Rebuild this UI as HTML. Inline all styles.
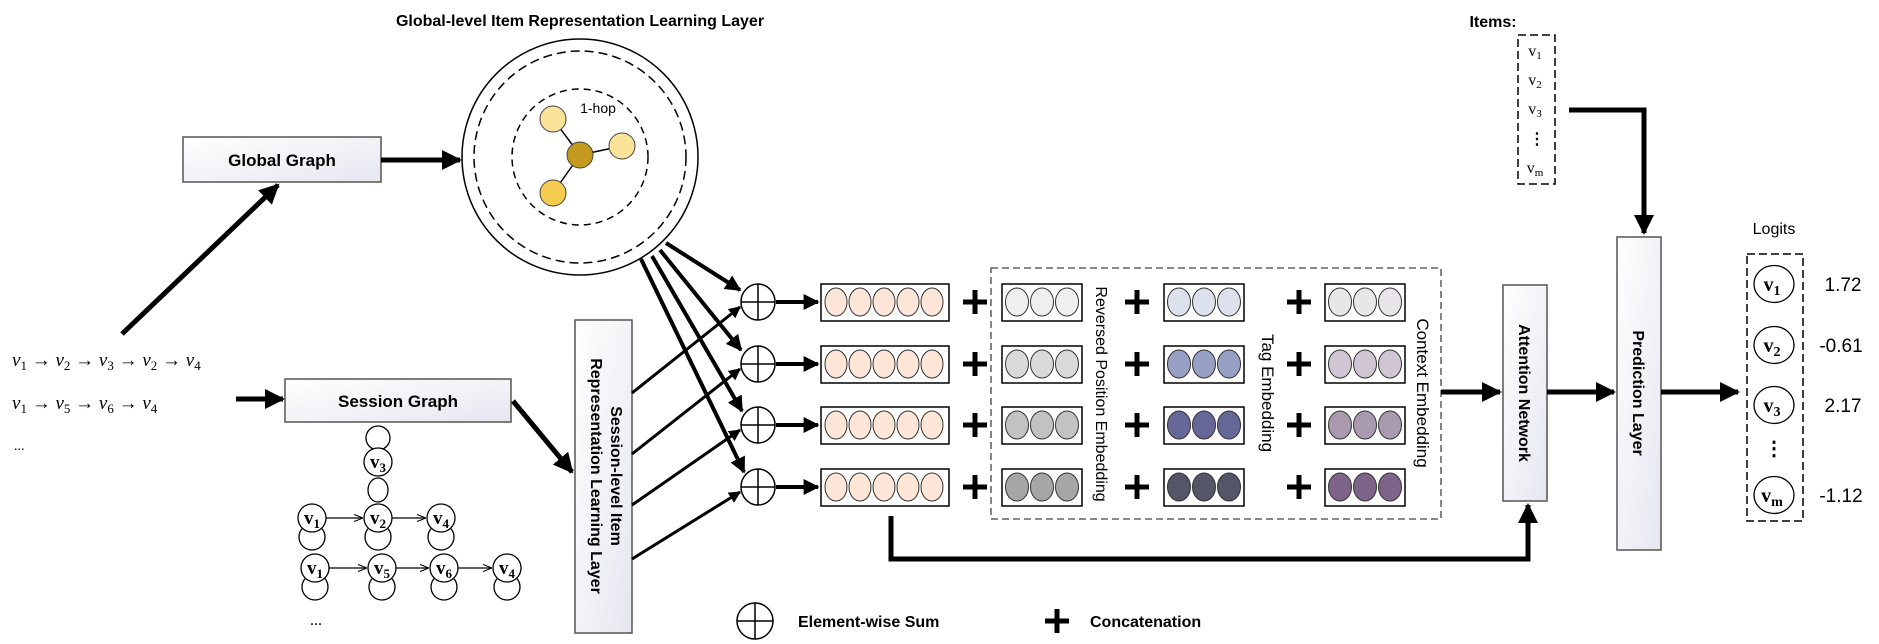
<!DOCTYPE html>
<html><head><meta charset="utf-8"><style>
html,body{margin:0;padding:0;background:#fff}
svg{display:block}
.b{font-family:"Liberation Sans",sans-serif;font-weight:bold}
.s{font-family:"Liberation Serif",serif}
</style></head><body>
<svg width="1879" height="644" viewBox="0 0 1879 644" xmlns="http://www.w3.org/2000/svg">
<defs>
<marker id="ah" viewBox="0 0 10 10" refX="9" refY="5" markerWidth="4" markerHeight="4" orient="auto" markerUnits="strokeWidth"><path d="M0,0 L10,5 L0,10 z" fill="#000"/></marker>
<marker id="sa" viewBox="0 0 10 10" refX="9" refY="5" markerWidth="7" markerHeight="7" orient="auto" markerUnits="strokeWidth"><path d="M0,1 L10,5 L0,9" fill="none" stroke="#000" stroke-width="1.2"/></marker>
<linearGradient id="gb" x1="0" y1="0" x2="1" y2="1"><stop offset="0" stop-color="#ffffff"/><stop offset="1" stop-color="#e6e6f0"/></linearGradient>
</defs>

<text x="580" y="26" class="b" font-size="16" text-anchor="middle">Global-level Item Representation Learning Layer</text>

<circle cx="580" cy="157" r="118" fill="#fff" stroke="#000" stroke-width="1.5"/>
<circle cx="580" cy="157" r="106" fill="none" stroke="#000" stroke-width="1.5" stroke-dasharray="9,5"/>
<circle cx="580" cy="157" r="68" fill="none" stroke="#000" stroke-width="1.5" stroke-dasharray="7,5"/>
<line x1="553" y1="119" x2="580" y2="155" stroke="#000" stroke-width="1.5"/>
<line x1="622" y1="146" x2="580" y2="155" stroke="#000" stroke-width="1.5"/>
<line x1="553" y1="193" x2="580" y2="155" stroke="#000" stroke-width="1.5"/>
<circle cx="553" cy="119" r="13" fill="#fbe39a" stroke="#444"/>
<circle cx="622" cy="146" r="13" fill="#fbe39a" stroke="#444"/>
<circle cx="553" cy="193" r="13" fill="#f5cc50" stroke="#444"/>
<circle cx="580" cy="155" r="13" fill="#c39a1e" stroke="#444"/>
<text x="598" y="113" font-family="Liberation Sans,sans-serif" font-size="14" text-anchor="middle">1-hop</text>

<rect x="183" y="137" width="198" height="45" fill="url(#gb)" stroke="#555" stroke-width="1.5"/>
<text x="282" y="166" class="b" font-size="17" text-anchor="middle">Global Graph</text>
<line x1="381" y1="160" x2="460" y2="160" stroke="#000" stroke-width="5" marker-end="url(#ah)"/>
<line x1="122" y1="334" x2="278" y2="185" stroke="#000" stroke-width="5" marker-end="url(#ah)"/>

<text x="12" y="366" class="s" font-style="italic" font-size="19">v<tspan font-size="13" dy="4" font-style="normal">1</tspan><tspan dy="-4"> → v</tspan><tspan font-size="13" dy="4" font-style="normal">2</tspan><tspan dy="-4"> → v</tspan><tspan font-size="13" dy="4" font-style="normal">3</tspan><tspan dy="-4"> → v</tspan><tspan font-size="13" dy="4" font-style="normal">2</tspan><tspan dy="-4"> → v</tspan><tspan font-size="13" dy="4" font-style="normal">4</tspan></text>
<text x="12" y="409" class="s" font-style="italic" font-size="19">v<tspan font-size="13" dy="4" font-style="normal">1</tspan><tspan dy="-4"> → v</tspan><tspan font-size="13" dy="4" font-style="normal">5</tspan><tspan dy="-4"> → v</tspan><tspan font-size="13" dy="4" font-style="normal">6</tspan><tspan dy="-4"> → v</tspan><tspan font-size="13" dy="4" font-style="normal">4</tspan></text>
<text x="14" y="450" class="s" font-size="14">...</text>

<line x1="236" y1="399" x2="283" y2="399" stroke="#000" stroke-width="5" marker-end="url(#ah)"/>
<rect x="285" y="379" width="226" height="43" fill="url(#gb)" stroke="#555" stroke-width="1.5"/>
<text x="398" y="407" class="b" font-size="17" text-anchor="middle">Session Graph</text>
<line x1="513" y1="401" x2="572" y2="472" stroke="#000" stroke-width="5" marker-end="url(#ah)"/>

<g fill="none" stroke="#000" stroke-width="1.3">
<circle cx="378" cy="438" r="12"/>
<ellipse cx="378" cy="490" rx="10" ry="12"/>
<circle cx="312" cy="537" r="13"/><circle cx="378" cy="537" r="13"/><circle cx="441" cy="537" r="13"/>
<circle cx="315" cy="587" r="13"/><circle cx="382" cy="587" r="13"/><circle cx="444" cy="587" r="13"/><circle cx="507" cy="587" r="13"/>
<line x1="326" y1="518" x2="362" y2="518" marker-end="url(#sa)"/>
<line x1="392" y1="518" x2="425" y2="518" marker-end="url(#sa)"/>
<line x1="329" y1="568" x2="366" y2="568" marker-end="url(#sa)"/>
<line x1="396" y1="568" x2="428" y2="568" marker-end="url(#sa)"/>
<line x1="458" y1="568" x2="491" y2="568" marker-end="url(#sa)"/>
</g>
<g fill="#fff" stroke="#000" stroke-width="1.3">
<circle cx="378" cy="462" r="14"/>
<circle cx="312" cy="518" r="14"/><circle cx="378" cy="518" r="14"/><circle cx="441" cy="518" r="14"/>
<circle cx="315" cy="568" r="14"/><circle cx="382" cy="568" r="14"/><circle cx="444" cy="568" r="14"/><circle cx="507" cy="568" r="14"/>
</g>
<g class="s" font-weight="bold" font-size="19" text-anchor="middle">
<text x="378" y="468">v<tspan font-size="13" dy="4">3</tspan></text>
<text x="312" y="524">v<tspan font-size="13" dy="4">1</tspan></text>
<text x="378" y="524">v<tspan font-size="13" dy="4">2</tspan></text>
<text x="441" y="524">v<tspan font-size="13" dy="4">4</tspan></text>
<text x="315" y="574">v<tspan font-size="13" dy="4">1</tspan></text>
<text x="382" y="574">v<tspan font-size="13" dy="4">5</tspan></text>
<text x="444" y="574">v<tspan font-size="13" dy="4">6</tspan></text>
<text x="507" y="574">v<tspan font-size="13" dy="4">4</tspan></text>
</g>
<text x="316" y="625" class="s" font-size="16" text-anchor="middle">...</text>

<rect x="575" y="320" width="57" height="313" fill="url(#gb)" stroke="#555" stroke-width="1.5"/>
<text transform="translate(611,476) rotate(90)" class="b" font-size="16" text-anchor="middle">Session-level Item</text>
<text transform="translate(591,476) rotate(90)" class="b" font-size="16" text-anchor="middle">Representation  Learning Layer</text>

<g stroke="#000" stroke-width="4">
<line x1="666" y1="243" x2="740" y2="290" marker-end="url(#ah)"/>
<line x1="660" y1="250" x2="741" y2="350" marker-end="url(#ah)"/>
<line x1="652" y1="256" x2="742" y2="411" marker-end="url(#ah)"/>
<line x1="641" y1="259" x2="744" y2="472" marker-end="url(#ah)"/>
</g>
<g stroke="#000" stroke-width="3">
<line x1="632" y1="393" x2="740" y2="307" marker-end="url(#ah)"/>
<line x1="632" y1="454" x2="740" y2="369" marker-end="url(#ah)"/>
<line x1="632" y1="505" x2="740" y2="430" marker-end="url(#ah)"/>
<line x1="632" y1="559" x2="740" y2="492" marker-end="url(#ah)"/>
</g>

<g stroke="#000" stroke-width="1.5" fill="#fff">
<ellipse cx="758" cy="302" rx="17" ry="18"/><ellipse cx="758" cy="364" rx="17" ry="18"/><ellipse cx="758" cy="425" rx="17" ry="18"/><ellipse cx="758" cy="487" rx="17" ry="18"/>
</g>
<path d="M741,302h34M758,284v36M741,364h34M758,346v36M741,425h34M758,407v36M741,487h34M758,469v36" stroke="#000" stroke-width="1.5"/>
<g stroke="#000" stroke-width="4">
<line x1="776" y1="302" x2="818" y2="302" marker-end="url(#ah)"/>
<line x1="776" y1="364" x2="818" y2="364" marker-end="url(#ah)"/>
<line x1="776" y1="425" x2="818" y2="425" marker-end="url(#ah)"/>
<line x1="776" y1="487" x2="818" y2="487" marker-end="url(#ah)"/>
</g>

<g stroke="#000" stroke-width="1.5">
<rect x="821" y="284" width="128" height="37" fill="#fff"/>
<rect x="821" y="346" width="128" height="37" fill="#fff"/>
<rect x="821" y="407" width="128" height="37" fill="#fff"/>
<rect x="821" y="469" width="128" height="37" fill="#fff"/>
</g>
<g fill="#fde6d8" stroke="#333" stroke-width="1">
<ellipse cx="836" cy="302" rx="11" ry="14"/><ellipse cx="860" cy="302" rx="11" ry="14"/><ellipse cx="884" cy="302" rx="11" ry="14"/><ellipse cx="908" cy="302" rx="11" ry="14"/><ellipse cx="932" cy="302" rx="11" ry="14"/>
<ellipse cx="836" cy="364" rx="11" ry="14"/><ellipse cx="860" cy="364" rx="11" ry="14"/><ellipse cx="884" cy="364" rx="11" ry="14"/><ellipse cx="908" cy="364" rx="11" ry="14"/><ellipse cx="932" cy="364" rx="11" ry="14"/>
<ellipse cx="836" cy="425" rx="11" ry="14"/><ellipse cx="860" cy="425" rx="11" ry="14"/><ellipse cx="884" cy="425" rx="11" ry="14"/><ellipse cx="908" cy="425" rx="11" ry="14"/><ellipse cx="932" cy="425" rx="11" ry="14"/>
<ellipse cx="836" cy="487" rx="11" ry="14"/><ellipse cx="860" cy="487" rx="11" ry="14"/><ellipse cx="884" cy="487" rx="11" ry="14"/><ellipse cx="908" cy="487" rx="11" ry="14"/><ellipse cx="932" cy="487" rx="11" ry="14"/>
</g>

<g stroke="#000" stroke-width="5">
<path d="M963,302h24M975,290v24M963,364h24M975,352v24M963,425h24M975,413v24M963,487h24M975,475v24"/>
<path d="M1125,302h24M1137,290v24M1125,364h24M1137,352v24M1125,425h24M1137,413v24M1125,487h24M1137,475v24"/>
<path d="M1287,302h24M1299,290v24M1287,364h24M1299,352v24M1287,425h24M1299,413v24M1287,487h24M1299,475v24"/>
</g>

<rect x="991" y="268" width="450" height="251" fill="none" stroke="#444" stroke-width="1.3" stroke-dasharray="7,4"/>

<g stroke="#000" stroke-width="1.5" fill="#fff">
<rect x="1002" y="284" width="80" height="37"/><rect x="1002" y="346" width="80" height="37"/><rect x="1002" y="407" width="80" height="37"/><rect x="1002" y="469" width="80" height="37"/>
<rect x="1164" y="284" width="80" height="37"/><rect x="1164" y="346" width="80" height="37"/><rect x="1164" y="407" width="80" height="37"/><rect x="1164" y="469" width="80" height="37"/>
<rect x="1325" y="284" width="80" height="37"/><rect x="1325" y="346" width="80" height="37"/><rect x="1325" y="407" width="80" height="37"/><rect x="1325" y="469" width="80" height="37"/>
</g>
<g stroke="#333" stroke-width="1">
<g fill="#efeff1"><ellipse cx="1017" cy="302" rx="11.5" ry="14"/><ellipse cx="1042" cy="302" rx="11.5" ry="14"/><ellipse cx="1067" cy="302" rx="11.5" ry="14"/></g>
<g fill="#d9d9d9"><ellipse cx="1017" cy="364" rx="11.5" ry="14"/><ellipse cx="1042" cy="364" rx="11.5" ry="14"/><ellipse cx="1067" cy="364" rx="11.5" ry="14"/></g>
<g fill="#c2c2c2"><ellipse cx="1017" cy="425" rx="11.5" ry="14"/><ellipse cx="1042" cy="425" rx="11.5" ry="14"/><ellipse cx="1067" cy="425" rx="11.5" ry="14"/></g>
<g fill="#a6a6a6"><ellipse cx="1017" cy="487" rx="11.5" ry="14"/><ellipse cx="1042" cy="487" rx="11.5" ry="14"/><ellipse cx="1067" cy="487" rx="11.5" ry="14"/></g>
<g fill="#dde1ec"><ellipse cx="1179" cy="302" rx="11.5" ry="14"/><ellipse cx="1204" cy="302" rx="11.5" ry="14"/><ellipse cx="1229" cy="302" rx="11.5" ry="14"/></g>
<g fill="#97a0c4"><ellipse cx="1179" cy="364" rx="11.5" ry="14"/><ellipse cx="1204" cy="364" rx="11.5" ry="14"/><ellipse cx="1229" cy="364" rx="11.5" ry="14"/></g>
<g fill="#656897"><ellipse cx="1179" cy="425" rx="11.5" ry="14"/><ellipse cx="1204" cy="425" rx="11.5" ry="14"/><ellipse cx="1229" cy="425" rx="11.5" ry="14"/></g>
<g fill="#545566"><ellipse cx="1179" cy="487" rx="11.5" ry="14"/><ellipse cx="1204" cy="487" rx="11.5" ry="14"/><ellipse cx="1229" cy="487" rx="11.5" ry="14"/></g>
<g fill="#e9e6ea"><ellipse cx="1340" cy="302" rx="11.5" ry="14"/><ellipse cx="1365" cy="302" rx="11.5" ry="14"/><ellipse cx="1390" cy="302" rx="11.5" ry="14"/></g>
<g fill="#cfc5d3"><ellipse cx="1340" cy="364" rx="11.5" ry="14"/><ellipse cx="1365" cy="364" rx="11.5" ry="14"/><ellipse cx="1390" cy="364" rx="11.5" ry="14"/></g>
<g fill="#a99ab0"><ellipse cx="1340" cy="425" rx="11.5" ry="14"/><ellipse cx="1365" cy="425" rx="11.5" ry="14"/><ellipse cx="1390" cy="425" rx="11.5" ry="14"/></g>
<g fill="#7e6488"><ellipse cx="1340" cy="487" rx="11.5" ry="14"/><ellipse cx="1365" cy="487" rx="11.5" ry="14"/><ellipse cx="1390" cy="487" rx="11.5" ry="14"/></g>
</g>

<text transform="translate(1096,394) rotate(90)" font-family="Liberation Sans,sans-serif" font-size="16" text-anchor="middle">Reversed Position Embedding</text>
<text transform="translate(1262,393) rotate(90)" font-family="Liberation Sans,sans-serif" font-size="17" text-anchor="middle">Tag Embedding</text>
<text transform="translate(1417,393) rotate(90)" font-family="Liberation Sans,sans-serif" font-size="17" text-anchor="middle">Context Embedding</text>

<line x1="1441" y1="392" x2="1500" y2="392" stroke="#000" stroke-width="5" marker-end="url(#ah)"/>
<rect x="1503" y="285" width="44" height="216" fill="url(#gb)" stroke="#555" stroke-width="1.5"/>
<text transform="translate(1519,393) rotate(90)" class="b" font-size="16" text-anchor="middle">Attention Network</text>
<line x1="1547" y1="392" x2="1614" y2="392" stroke="#000" stroke-width="5" marker-end="url(#ah)"/>
<rect x="1617" y="237" width="44" height="313" fill="url(#gb)" stroke="#555" stroke-width="1.5"/>
<text transform="translate(1633,393) rotate(90)" class="b" font-size="16" text-anchor="middle">Prediction Layer</text>
<line x1="1661" y1="392" x2="1738" y2="392" stroke="#000" stroke-width="5" marker-end="url(#ah)"/>

<polyline points="891,516 891,559 1528,559 1528,505" fill="none" stroke="#000" stroke-width="5" marker-end="url(#ah)"/>

<text x="1493" y="27" class="b" font-size="16" text-anchor="middle">Items:</text>
<rect x="1518" y="35" width="37" height="149" fill="none" stroke="#000" stroke-width="1.5" stroke-dasharray="8,4"/>
<g class="s" font-size="16" text-anchor="middle">
<text x="1535" y="56">v<tspan font-size="11" dy="3">1</tspan></text>
<text x="1535" y="85">v<tspan font-size="11" dy="3">2</tspan></text>
<text x="1535" y="114">v<tspan font-size="11" dy="3">3</tspan></text>
<text x="1537" y="144" font-weight="bold">⋮</text>
<text x="1535" y="173">v<tspan font-size="11" dy="3">m</tspan></text>
</g>
<polyline points="1569,110 1644,110 1644,233" fill="none" stroke="#000" stroke-width="5" marker-end="url(#ah)"/>

<text x="1774" y="234" font-family="Liberation Sans,sans-serif" font-size="16" text-anchor="middle">Logits</text>
<rect x="1747" y="254" width="56" height="267" fill="none" stroke="#000" stroke-width="1.5" stroke-dasharray="8,4"/>
<g fill="#fff" stroke="#000" stroke-width="1.3">
<ellipse cx="1774" cy="284" rx="20" ry="18.5"/><ellipse cx="1774" cy="345" rx="20" ry="18.5"/><ellipse cx="1774" cy="405" rx="20" ry="18.5"/><ellipse cx="1774" cy="495" rx="20" ry="18.5"/>
</g>
<g class="s" font-size="20" text-anchor="middle" font-weight="bold">
<text x="1772" y="291">v<tspan font-size="14" dy="4">1</tspan></text>
<text x="1772" y="352">v<tspan font-size="14" dy="4">2</tspan></text>
<text x="1772" y="412">v<tspan font-size="14" dy="4">3</tspan></text>
<text x="1774" y="455">⋮</text>
<text x="1772" y="502">v<tspan font-size="14" dy="4">m</tspan></text>
</g>
<g font-family="Liberation Sans,sans-serif" font-size="19" text-anchor="middle">
<text x="1843" y="291">1.72</text>
<text x="1841" y="352">-0.61</text>
<text x="1843" y="412">2.17</text>
<text x="1841" y="502">-1.12</text>
</g>

<ellipse cx="755" cy="621" rx="18" ry="18" fill="#fff" stroke="#000" stroke-width="1.5"/>
<path d="M737,621h36M755,603v36" stroke="#000" stroke-width="1.5"/>
<text x="798" y="627" class="b" font-size="16">Element-wise Sum</text>
<path d="M1045,621h24M1057,609v24" stroke="#000" stroke-width="5"/>
<text x="1090" y="627" class="b" font-size="16">Concatenation</text>
</svg>
</body></html>
